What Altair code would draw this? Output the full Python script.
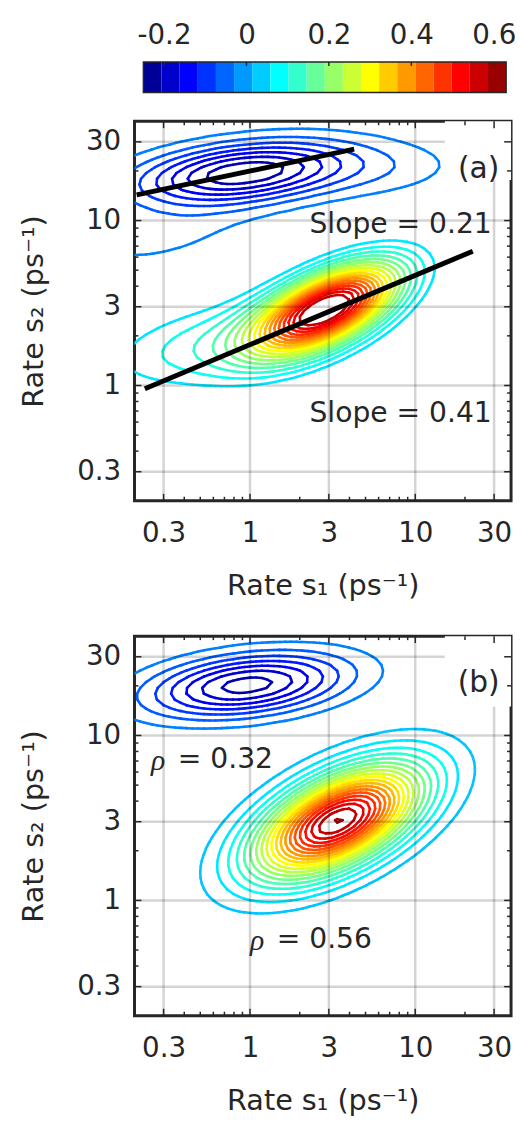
import numpy as np
import pandas as pd
import altair as alt

# ---------------- data ----------------
# colour bar
cbar_lo, cbar_hi = -0.25, 0.63
cbar_nbins = 20
cbar_ticks = [-0.2, 0, 0.2, 0.4, 0.6]

# contour levels (amplitude)
levels_neg = [-0.21, -0.18, -0.15, -0.12, -0.09, -0.06, -0.03]
levels_pos_a = [0.06, 0.09, 0.12, 0.15, 0.18, 0.21, 0.24, 0.27, 0.30, 0.33,
                0.36, 0.39, 0.42, 0.45, 0.48, 0.51, 0.54, 0.57]
levels_pos_b = [0.03, 0.06, 0.09, 0.12, 0.15, 0.18, 0.21, 0.24, 0.27, 0.30,
                0.33, 0.36, 0.39, 0.42, 0.45, 0.48, 0.51, 0.54, 0.57, 0.60]

# peak components (log10 rate space)
comp_panel = ["a", "a", "a", "a", "a", "b", "b"]
comp_amp = [-0.235, -0.038, -0.034, 0.60, 0.11, -0.225, 0.603]
comp_cu = [-0.04, -0.55, 0.85, 0.47, -0.20, -0.018, 0.53]
comp_cv = [1.29, 0.90, 1.30, 0.47, 0.25, 1.305, 0.48]
comp_su = [0.45, 0.42, 0.36, 0.30, 0.50, 0.41, 0.339]
comp_sv = [0.13, 0.16, 0.12, 0.19, 0.20, 0.131, 0.228]
comp_rho = [0.35, 0.5, 0.2, 0.6, 0.4, 0.32, 0.56]

# fitted lines in panel (a)
fit_x1 = [0.206, 0.231]
fit_y1 = [14.3, 0.955]
fit_x2 = [4.27, 22.3]
fit_y2 = [27.1, 6.52]

# annotations
ann_panel = ["a", "a", "b", "b"]
ann_text = ["Slope = 0.21", "Slope = 0.41", "= 0.32", "= 0.56"]
ann_x = [2.29, 2.29, 0.252, 1.0]
ann_y = [9.5, 0.68, 7.18, 0.584]
rho_x = [0.252, 1.0]
rho_y = [7.18, 0.584]
lab_panel = ["a", "b"]
lab_text = ["(a)", "(b)"]
lab_x = [24.2, 24.2]
lab_y = [20.5, 20.8]
box_x1 = [15.1, 15.1]
box_x2 = [38, 38]
box_y1 = [17.6, 15.0]
box_y2 = [40, 40]

major_ticks = [0.3, 1, 3, 10, 30]
minor_ticks = [0.4, 0.5, 0.6, 0.7, 0.8, 0.9, 2, 4, 5, 6, 7, 8, 9, 20]

x_domain = [0.2, 38]
y_domain = [0.2, 40]

# ---------------- helpers ----------------
FONT = "DejaVu Sans"
TXT = "#262626"
W, H = 381, 384
LFS = 28   # tick label font size
TFS = 29   # axis title font size
AFS = 28.5   # annotation font size

jet = alt.Scale(domain=[-0.25, -0.14, 0.08, 0.30, 0.52, 0.63],
                range=["#000080", "#0000ff", "#00ffff", "#ffff00", "#ff0000", "#800000"],
                interpolate="rgb")


def field(panel, U, V):
    Z = np.zeros_like(U)
    for i in range(len(comp_panel)):
        if comp_panel[i] != panel:
            continue
        du = (U - comp_cu[i]) / comp_su[i]
        dv = (V - comp_cv[i]) / comp_sv[i]
        r = comp_rho[i]
        q = (du * du - 2 * r * du * dv + dv * dv) / (1 - r * r)
        Z += comp_amp[i] * np.exp(-0.5 * q)
    return Z


def segments(gu, gv, Z, level):
    z00 = Z[:-1, :-1]; z10 = Z[:-1, 1:]; z01 = Z[1:, :-1]; z11 = Z[1:, 1:]
    shp = z00.shape
    U0 = np.broadcast_to(gu[:-1][None, :], shp); U1 = np.broadcast_to(gu[1:][None, :], shp)
    V0 = np.broadcast_to(gv[:-1][:, None], shp); V1 = np.broadcast_to(gv[1:][:, None], shp)

    def fr(a, b):
        with np.errstate(divide="ignore", invalid="ignore"):
            return (level - a) / (b - a)

    def cr(a, b):
        return (a - level) * (b - level) < 0

    M = np.stack([cr(z00, z10), cr(z10, z11), cr(z01, z11), cr(z00, z01)])
    PU = np.stack([U0 + fr(z00, z10) * (U1 - U0), U1, U0 + fr(z01, z11) * (U1 - U0), U0])
    PV = np.stack([V0, V0 + fr(z10, z11) * (V1 - V0), V1, V0 + fr(z00, z01) * (V1 - V0)])
    cnt = M.sum(0)
    out = []
    for j, i in np.argwhere(cnt == 2):
        k = np.nonzero(M[:, j, i])[0]
        out.append((PU[k[0], j, i], PV[k[0], j, i], PU[k[1], j, i], PV[k[1], j, i]))
    for j, i in np.argwhere(cnt == 4):
        out.append((PU[0, j, i], PV[0, j, i], PU[3, j, i], PV[3, j, i]))
        out.append((PU[1, j, i], PV[1, j, i], PU[2, j, i], PV[2, j, i]))
    return out


gu = np.linspace(np.log10(x_domain[0]), np.log10(x_domain[1]), 66)
gv = np.linspace(np.log10(y_domain[0]), np.log10(y_domain[1]), 67)
GU, GV = np.meshgrid(gu, gv)


def contour_df(panel, levels):
    Z = field(panel, GU, GV)
    rows = []
    for lv in levels:
        for (a, b, c, d) in segments(gu, gv, Z, lv):
            rows.append({"x1": round(10 ** a, 4), "y1": round(10 ** b, 4),
                         "x2": round(10 ** c, 4), "y2": round(10 ** d, 4), "level": lv})
    return pd.DataFrame(rows)


xs = alt.Scale(type="log", domain=x_domain, nice=False)
ys = alt.Scale(type="log", domain=y_domain, nice=False)
xaxis = alt.Axis(values=major_ticks, format="~g", tickSize=0, domain=False, grid=False,
                 labelFontSize=LFS, labelPadding=19, labelColor=TXT, labelFont=FONT,
                 title="Rate s\u2081 (ps\u207b\u00b9)", titleFontSize=TFS, titleFont=FONT,
                 titleFontWeight="normal", titleColor=TXT, titlePadding=25)
yaxis = alt.Axis(values=major_ticks, format="~g", tickSize=0, domain=False, grid=False,
                 labelFontSize=LFS, labelPadding=14, labelColor=TXT, labelFont=FONT,
                 title="Rate s\u2082 (ps\u207b\u00b9)", titleFontSize=TFS, titleFont=FONT,
                 titleFontWeight="normal", titleColor=TXT, titlePadding=29)


def X(f):
    return alt.X(f, type="quantitative", scale=xs, axis=xaxis)


def Y(f):
    return alt.Y(f, type="quantitative", scale=ys, axis=yaxis)


def panel(p, levels):
    cdf = contour_df(p, levels)
    layers = []
    layers.append(alt.Chart(cdf).mark_rule(strokeWidth=2.6, strokeCap="round", clip=True).encode(
        x=X("x1"), y=Y("y1"), x2="x2:Q", y2="y2:Q",
        color=alt.Color("level:Q", scale=jet, legend=None)))
    tdf = pd.DataFrame({"v": major_ticks})
    layers.append(alt.Chart(tdf).mark_rule(color="black", opacity=0.17, strokeWidth=2.5).encode(x=X("v")))
    layers.append(alt.Chart(tdf).mark_rule(color="black", opacity=0.17, strokeWidth=2.5).encode(y=Y("v")))
    if p == "a":
        fdf = pd.DataFrame({"x1": fit_x1, "y1": fit_y1, "x2": fit_x2, "y2": fit_y2})
        layers.append(alt.Chart(fdf).mark_rule(color="black", strokeWidth=5).encode(
            x=X("x1"), y=Y("y1"), x2="x2:Q", y2="y2:Q"))
    # white box behind panel label
    bi = lab_panel.index(p)
    bdf = pd.DataFrame({"x1": [box_x1[bi]], "x2": [box_x2[bi]], "y1": [box_y1[bi]], "y2": [box_y2[bi]]})
    layers.append(alt.Chart(bdf).mark_rect(color="white").encode(
        x=X("x1"), x2="x2:Q", y=Y("y1"), y2="y2:Q"))
    # ticks (inward) on all four sides
    mj = pd.DataFrame({"v": major_ticks})
    mn = pd.DataFrame({"v": minor_ticks})
    for df_, ln in ((mj, 7), (mn, 4)):
        base = alt.Chart(df_).mark_rule(color=TXT, strokeWidth=1.5)
        layers.append(base.encode(x=X("v"), y=alt.value(H), y2=alt.value(H - ln)))
        layers.append(base.encode(x=X("v"), y=alt.value(0), y2=alt.value(ln)))
        layers.append(base.encode(y=Y("v"), x=alt.value(0), x2=alt.value(ln)))
        layers.append(base.encode(y=Y("v"), x=alt.value(W), x2=alt.value(W - ln)))
    # annotations
    sel = [i for i, q in enumerate(ann_panel) if q == p]
    ad = pd.DataFrame({"t": [ann_text[i] for i in sel], "x": [ann_x[i] for i in sel],
                       "y": [ann_y[i] for i in sel]})
    dx = 27 if p == "b" else 0
    layers.append(alt.Chart(ad).mark_text(align="left", baseline="middle", fontSize=AFS, font=FONT,
                                          color=TXT, dx=dx).encode(x=X("x"), y=Y("y"), text="t:N"))
    if p == "b":
        rd = pd.DataFrame({"x": rho_x, "y": rho_y, "t": ["\u03c1", "\u03c1"]})
        layers.append(alt.Chart(rd).mark_text(align="left", baseline="middle", fontSize=30,
                                              font="Liberation Serif", fontStyle="italic",
                                              color=TXT, dy=2).encode(x=X("x"), y=Y("y"), text="t:N"))
    ld = pd.DataFrame({"x": [lab_x[bi]], "y": [lab_y[bi]], "t": [lab_text[bi]]})
    layers.append(alt.Chart(ld).mark_text(align="center", baseline="middle", fontSize=30, font=FONT,
                                          color=TXT).encode(x=X("x"), y=Y("y"), text="t:N"))
    return alt.layer(*layers).properties(
        width=W, height=H, view=alt.ViewBackground(stroke="#262626", strokeWidth=3))


# ---------------- colour bar ----------------
bw = (cbar_hi - cbar_lo) / cbar_nbins
cb = pd.DataFrame({"lo": [cbar_lo + k * bw for k in range(cbar_nbins)],
                   "hi": [cbar_lo + (k + 1) * bw for k in range(cbar_nbins)],
                   "c": [cbar_lo + (k + 0.5) * bw for k in range(cbar_nbins)]})
ppu = (512 - 145) / (cbar_hi - cbar_lo)
cxs = alt.Scale(domain=[cbar_lo - 9 / ppu, cbar_hi + 5 / ppu], nice=False, zero=False)
cax = alt.Axis(values=cbar_ticks, orient="top", format="~g", tickSize=0, domain=False, grid=False,
               labelExpr="replace(datum.label, '\u2212', '-')",
               labelFontSize=LFS, labelPadding=13, labelColor=TXT, labelFont=FONT, title=None)
CBH = 31
cells = alt.Chart(cb).mark_rect().encode(
    x=alt.X("lo:Q", scale=cxs, axis=cax), x2="hi:Q", y=alt.value(0), y2=alt.value(CBH),
    color=alt.Color("c:Q", scale=jet, legend=None))
frame = alt.Chart(pd.DataFrame({"lo": [cbar_lo], "hi": [cbar_hi]})).mark_rect(
    fill=None, stroke=TXT, strokeWidth=1.5).encode(
    x=alt.X("lo:Q", scale=cxs, axis=cax), x2="hi:Q", y=alt.value(0), y2=alt.value(CBH))
cticks = alt.Chart(pd.DataFrame({"v": cbar_ticks})).mark_rule(color=TXT, strokeWidth=1.5).encode(
    x=alt.X("v:Q", scale=cxs, axis=cax), y=alt.value(0), y2=alt.value(4))
cbar = alt.layer(cells, frame, cticks).properties(width=W, height=CBH, view=alt.ViewBackground(stroke=None))

pa = panel("a", levels_neg + levels_pos_a)
pb = panel("b", levels_neg + levels_pos_b)

chart = alt.vconcat(cbar, alt.vconcat(pa, pb, spacing=31), spacing=25).properties(
    padding={"left": 9, "top": 7, "right": 0, "bottom": 0}
).configure(font=FONT).configure_view(stroke=None)

chart.save("out.html", embed_options={"renderer": "svg", "actions": False})
